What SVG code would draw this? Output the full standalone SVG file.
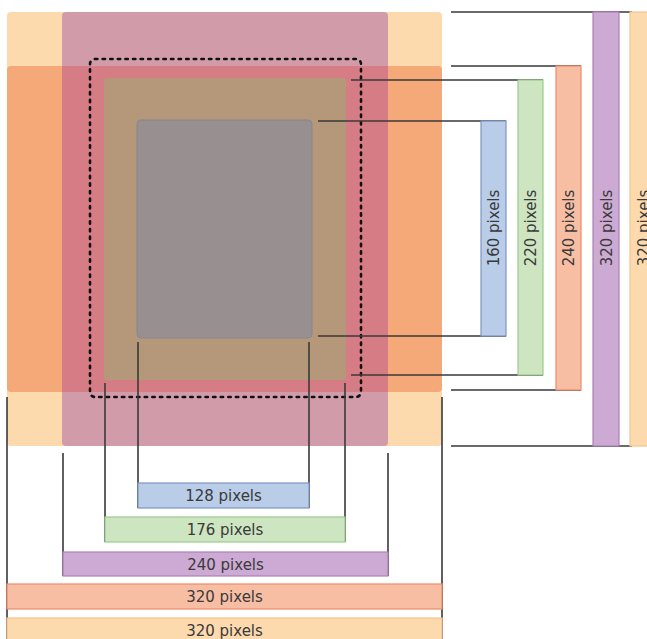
<svg xmlns="http://www.w3.org/2000/svg" width="647" height="639" viewBox="0 0 647 639">
<style>
.lbl{font-family:"DejaVu Sans",sans-serif;font-size:15px;fill:#3a3a3a;text-anchor:middle}
.dim{stroke:#3a3a3a;stroke-width:1.6;fill:none}
.blue{fill:#b9cce8;stroke:#7f95c4;stroke-width:1.2}
.green{fill:#cde5c1;stroke:#9ccb8c;stroke-width:1.2}
.salmon{fill:#f8bea4;stroke:#ef8a6a;stroke-width:1.2}
.purple{fill:#ccaad3;stroke:#a882b6;stroke-width:1.2}
.peach{fill:#fdd9ae;stroke:#f6c48c;stroke-width:1.2}
</style>
<rect width="647" height="639" fill="#ffffff"/>
<g id="area-320-tall">
<rect x="7" y="12" width="435" height="434" rx="4" fill="#fdd9ae"/>
</g>
<g id="area-320-wide">
<rect x="7" y="66" width="435" height="326" rx="4" fill="#f5a878"/>
</g>
<g id="area-240">
<rect x="62" y="12" width="326" height="434" rx="4" fill="#d19ba9"/>
<rect x="62" y="66" width="326" height="326" fill="#d67c85"/>
</g>
<g id="area-dotted">
<rect x="90" y="59" width="271" height="338" rx="5" fill="none" stroke="#111" stroke-width="2.6" stroke-dasharray="2.4 5.2" stroke-linecap="round"/>
</g>
<g id="area-176">
<rect x="104" y="78" width="242" height="302" rx="3" fill="#b59779"/>
</g>
<g id="area-128">
<rect x="137" y="120" width="175" height="218" rx="4" fill="#978f90" stroke="#8a8590" stroke-width="1"/>
</g>
<g id="connectors">
<path class="dim" d="M451 12H632M451 66H581M351 80H543M318 121H506M318 336H506M351 375H543M451 390H581M451 446H632"/>
<path class="dim" d="M7 397V639M442 397V639M63 453V576M388 453V576M105 383V542M345 383V542M138 342V508M309 342V508"/>
</g>
<g id="bar-v160">
<rect class="blue" x="481" y="121" width="25" height="215"/>
<text class="lbl" transform="translate(498.5 228) rotate(-90)">160 pixels</text>
</g>
<g id="bar-v220">
<rect class="green" x="518" y="80" width="25" height="295"/>
<text class="lbl" transform="translate(536 228) rotate(-90)">220 pixels</text>
</g>
<g id="bar-v240">
<rect class="salmon" x="556" y="66" width="25" height="324"/>
<text class="lbl" transform="translate(574 228) rotate(-90)">240 pixels</text>
</g>
<g id="bar-v320a">
<rect class="purple" x="593" y="12" width="26" height="434"/>
<text class="lbl" transform="translate(611.5 228) rotate(-90)">320 pixels</text>
</g>
<g id="bar-v320b">
<rect class="peach" x="630" y="12" width="26" height="434"/>
<text class="lbl" transform="translate(648.5 228) rotate(-90)">320 pixels</text>
</g>
<g id="bar-h128">
<rect class="blue" x="138" y="483" width="171" height="25"/>
<text class="lbl" x="223.5" y="501">128 pixels</text>
</g>
<g id="bar-h176">
<rect class="green" x="105" y="517" width="240" height="25"/>
<text class="lbl" x="225" y="535">176 pixels</text>
</g>
<g id="bar-h240">
<rect class="purple" x="63" y="552" width="325" height="24"/>
<text class="lbl" x="225.5" y="569.5">240 pixels</text>
</g>
<g id="bar-h320a">
<rect class="salmon" x="7" y="584" width="435" height="25"/>
<text class="lbl" x="224.5" y="602">320 pixels</text>
</g>
<g id="bar-h320b">
<rect class="peach" x="7" y="618" width="435" height="26"/>
<text class="lbl" x="224.5" y="636">320 pixels</text>
</g>
</svg>
